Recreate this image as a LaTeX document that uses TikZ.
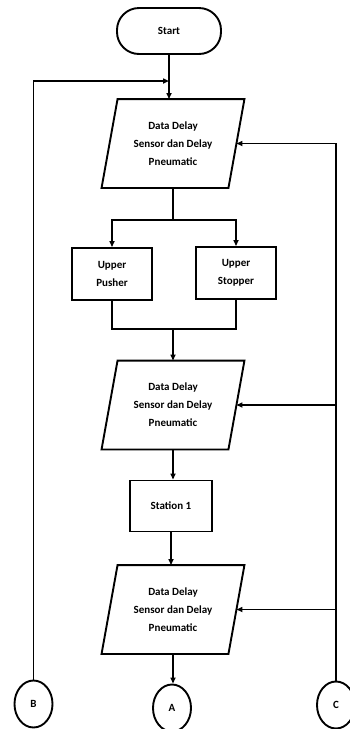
\documentclass[tikz,border=0pt]{standalone}
\usepackage{fontspec}
\setmainfont{Carlito}
\usetikzlibrary{shapes.geometric,arrows.meta}
\begin{document}
\begin{tikzpicture}[x=1pt,y=-1pt,line width=1.9pt,
  every node/.style={font=\fontsize{11}{18}\selectfont\bfseries,align=center,inner sep=0pt},
  arr/.style={-{Triangle[length=6pt,width=5pt]}},
  boxnode/.style={draw,rectangle,minimum width=80pt,minimum height=52pt},
  termnode/.style={draw,rectangle,rounded corners=22pt,minimum width=104pt,minimum height=46pt},
  paranode/.style={rectangle,minimum width=125pt,minimum height=87pt},
  conn/.style={draw,ellipse,minimum width=38pt,minimum height=47pt},
  paraframe/.style={draw}]
\useasboundingbox (0,0) rectangle (350,729);
\clip (0,0) rectangle (350,729);

\node[termnode] (start) at (169,31) {Start};
\node[paranode] (p1) at (173,143.5) {Data Delay\\Sensor dan Delay\\Pneumatic};
\node[boxnode] (pusher) at (112,274) {Upper\\Pusher};
\node[boxnode] (stopper) at (236,273) {Upper\\Stopper};
\node[paranode] (p2) at (173,405) {Data Delay\\Sensor dan Delay\\Pneumatic};
\node[boxnode,minimum width=82pt,minimum height=51pt] (station) at (171,506) {Station 1};
\node[paranode] (p3) at (173,609.5) {Data Delay\\Sensor dan Delay\\Pneumatic};
\node[conn] (A) at (172,708) {A};
\node[conn] (B) at (33.5,704) {B};
\node[conn] (C) at (336,705) {C};

\foreach \p in {p1,p2,p3}
  \draw[paraframe] ([xshift=8pt]\p.north west) -- ([xshift=8pt]\p.north east)
     -- ([xshift=-8pt]\p.south east) -- ([xshift=-8pt]\p.south west) -- cycle;

\coordinate (j1) at (169,81);
\draw[arr] (start.south) -- (start.south |- p1.north);
\draw[arr] (B.north) |- (j1);

\draw (p1.south) -- ++(0,32) coordinate (s1);
\draw[arr] (s1) -| (pusher.north);
\draw[arr] (s1) -| (stopper.north);

\coordinate (m1) at (173,329);
\draw (pusher.south) |- (m1) -| (stopper.south);
\draw[arr] (m1) -- (p2.north);

\draw[arr] (p2.south) -- (p2.south |- station.north);
\draw[arr] (station.south) -- (station.south |- p3.north);
\draw[arr] (p3.south) -- (p3.south |- A.north);

\draw[arr] (C.north) |- (p1.east);
\draw[arr] (C.north |- p2.east) -- (p2.east);
\draw[arr] (C.north |- p3.east) -- (p3.east);
\end{tikzpicture}
\end{document}
